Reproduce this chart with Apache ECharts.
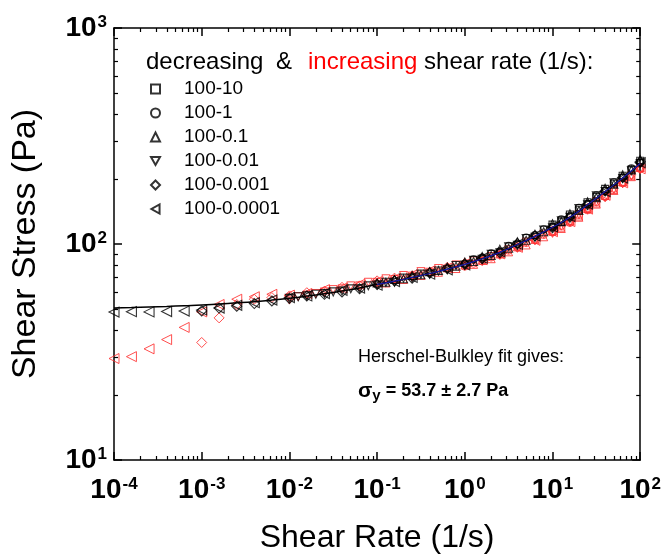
<!DOCTYPE html>
<html><head><meta charset="utf-8">
<script src="https://cdn.jsdelivr.net/npm/echarts@6/dist/echarts.min.js"></script>
<style>html,body{margin:0;padding:0;background:#fff}#c{width:664px;height:559px}</style>
</head><body><div id="c"></div>
<script>
// fine grid of shear rates (1/s), 10 per decade, from 100 down to 0.01
const ratesFine = [100, 79.4, 63.1, 50.1, 39.8, 31.6, 25.1, 20, 15.8, 12.6, 10, 7.94, 6.31, 5.01, 3.98, 3.16, 2.51, 2, 1.58, 1.26, 1, 0.794, 0.631, 0.501, 0.398, 0.316, 0.251, 0.2, 0.158, 0.126, 0.1, 0.0794, 0.0631, 0.0501, 0.0398, 0.0316, 0.0251, 0.02, 0.0158, 0.0126, 0.01];
// coarse grid, 5 per decade, from 100 down to 0.0001
const ratesCoarse = [100, 63.1, 39.8, 25.1, 15.8, 10, 6.31, 3.98, 2.51, 1.58, 1, 0.631, 0.398, 0.251, 0.158, 0.1, 0.0631, 0.0398, 0.0251, 0.0158, 0.01, 0.00631, 0.00398, 0.00251, 0.00158, 0.001, 0.000631, 0.000398, 0.000251, 0.000158, 0.0001];
const sweepNames = ['100-10', '100-1', '100-0.1', '100-0.01', '100-0.001', '100-0.0001'];
// decreasing shear rate (black)
const dec10 = [243, 221, 207, 190, 180, 165, 156, 144, 137, 127, 123];
const dec1 = [238, 224, 203, 193, 176, 168, 153, 147, 134, 130, 120, 117, 110, 107, 100, 98, 92.5, 90.5, 86.5, 85, 81];
const dec01 = [246, 220, 209, 189, 181, 164, 157, 143, 138, 127, 124, 114, 111, 104, 102.5, 95.5, 94.5, 88.5, 87.5, 83, 82.5, 79, 78, 75.5, 74.5, 72, 71.5, 69, 68.5, 66.5, 66];
const dec001 = [236, 218, 201, 192, 175, 167, 152, 146, 133, 128, 119, 116, 107.5, 106, 98.5, 97, 91, 89.5, 85, 84, 80, 79.5, 76, 75, 72.5, 72.5, 69.5, 69.5, 66.5, 66.5, 64.5, 64, 62, 62, 60.5, 60, 59, 58.5, 57.5, 57, 56];
const dec0001 = [240, 203, 176, 152, 133, 119, 109, 100.5, 91, 85.5, 80.5, 77, 73.5, 69.5, 67.5, 65, 62, 60, 58.5, 57.5, 56, 54.5, 53, 51.5, 50.5, 49.0];
const dec00001 = [238, 202, 175, 153, 134, 120, 109, 99.5, 92, 86, 80, 76, 72.5, 70, 67, 64.5, 62.5, 61, 59, 57.5, 56.5, 55, 53.5, 52, 50.5, 49.5, 48.9, 48.7, 48.5, 48.6, 48.4];
// increasing shear rate (red)
const inc10 = [225, 206, 193, 178, 167, 154, 145, 134, 127, 119, 114];
const inc1 = [222, 208, 191, 180, 165, 156, 143, 136, 125, 121, 113, 110, 104.5, 101, 96, 93, 89, 86.5, 83, 81, 78.5];
const inc01 = [226, 205, 194, 177, 168, 153, 146, 133, 128, 118, 115, 108, 105, 99, 97, 92, 90, 85.5, 84, 80.5, 80, 77, 77.5, 74, 74.5, 71.5, 72, 68.5, 69, 66, 66.5];
const inc001 = [221, 207, 190, 179, 164, 157, 144, 137, 126, 121, 112, 111, 103.5, 102, 95.5, 94, 88.5, 87.5, 83, 83.5, 79, 80, 76.5, 77, 74, 74.5, 71, 71.5, 68.5, 69, 66.5, 66.5, 64, 64, 62, 61.5, 60, 59, 58, 57, 55];
const inc0001 = [225, 193, 166, 146, 128, 115, 105, 97, 90.5, 85.5, 81.5, 78, 74, 71, 69.5, 67.5, 64, 63, 60.5, 59.5, 57.5, 56.5, 55.5, 52.5, 45.5, 35.0];
const inc00001 = [223, 192, 168, 145, 127, 114, 104, 96.5, 90, 84.5, 81, 77.5, 75, 72, 69, 67, 65, 62.5, 61.5, 59, 58, 58.5, 57, 55.5, 52.5, 48.5, 41.1, 36.1, 32.7, 30.1, 29.5];
// Herschel-Bulkley fit curve on the coarse grid
const fitLine = [236, 202, 175, 152, 133, 119.5, 108.5, 99.5, 91.5, 85.5, 80.5, 76.5, 73.0, 70.0, 67.3, 65.0, 62.6, 60.6, 58.9, 57.4, 56.1, 55.0, 54.1, 53.4, 52.8, 52.2, 51.8, 51.4, 51.1, 50.8, 50.6];
const blueFit = [236, 202, 175, 152, 133, 119.5, 108.5, 99.5, 91.5, 85.5, 80.5, 76.5, 73.0, 70.0, 67.3, 65.0];
// ticks
const xMajorTicks = [1e-4, 1e-3, 1e-2, 1e-1, 1, 10, 100];
const xTickExps = ['-4', '-3', '-2', '-1', '0', '1', '2'];
const yMajorTicks = [10, 100, 1000];
const yTickExps = ['1', '2', '3'];
const minorMult = [2, 3, 4, 5, 6, 7, 8, 9];

// minor tick positions in decades (drawn on linear helper axes spanning the same decades)
const xMinor = [];
xMajorTicks.slice(0, -1).forEach(d => minorMult.forEach(m => xMinor.push(Math.log10(d * m))));
const yMinor = [];
yMajorTicks.slice(0, -1).forEach(d => minorMult.forEach(m => yMinor.push(Math.log10(d * m))));

const decSets = [[dec10, ratesFine], [dec1, ratesFine], [dec01, ratesFine], [dec001, ratesFine], [dec0001, ratesCoarse], [dec00001, ratesCoarse]];
const incSets = [[inc10, ratesFine], [inc1, ratesFine], [inc01, ratesFine], [inc001, ratesFine], [inc0001, ratesCoarse], [inc00001, ratesCoarse]];
const symbols = ['rect', 'circle', 'triangle', 'path://M0,0L10,0L5,9Z', 'diamond', 'path://M9,0L9,10L0,5Z'];
const symSizes = [7, 7, 8, 8, 10, 10];
const pair = (arr, xs) => arr.map((v, i) => [xs[i], v]);

const FONT = '"Liberation Sans", Arial, sans-serif';

function expLabel(v, ticks, exps) {
  let best = 0;
  ticks.forEach((t, i) => { if (Math.abs(Math.log10(t) - Math.log10(v)) < Math.abs(Math.log10(ticks[best]) - Math.log10(v))) best = i; });
  return '{b|10}{s|' + exps[best] + '}';
}
const labelRich = {
  b: { fontFamily: FONT, fontWeight: 'bold', fontSize: 28, color: '#000' },
  s: { fontFamily: FONT, fontWeight: 'bold', fontSize: 17, color: '#000', verticalAlign: 'top', padding: [0, 0, 11, 1] }
};

const series = [];
incSets.forEach((s, k) => series.push({
  name: 'inc ' + sweepNames[k], type: 'scatter', data: pair(s[0], s[1]), symbol: symbols[k], symbolSize: symSizes[k],
  itemStyle: { color: 'rgba(0,0,0,0)', borderColor: '#ff3030', borderWidth: 1, opacity: 0.85 }, z: 2
}));
decSets.forEach((s, k) => series.push({
  name: sweepNames[k], type: 'scatter', data: pair(s[0], s[1]), symbol: symbols[k], symbolSize: symSizes[k],
  itemStyle: { color: 'rgba(0,0,0,0)', borderColor: '#000', borderWidth: 1.1 }, z: 3
}));
series.push({ name: 'fit', type: 'line', data: pair(fitLine, ratesCoarse), showSymbol: false, smooth: true,
  lineStyle: { color: '#000', width: 1.5 }, z: 4 });
series.push({ name: 'fit2', type: 'line', data: pair(blueFit, ratesCoarse), showSymbol: false, smooth: true,
  lineStyle: { color: '#1c1ca8', width: 1.2 }, z: 5 });

const logAxis = (extra) => Object.assign({
  type: 'log', logBase: 10, splitLine: { show: false }, minorTick: { show: false }
}, extra);
const helperAxis = (extra) => Object.assign({
  type: 'value', splitLine: { show: false }, axisLine: { show: false, onZero: false }, axisLabel: { show: false }, minorTick: { show: false }
}, extra);
const blackLine = { show: true, onZero: false, lineStyle: { color: '#000', width: 1.5 } };
const majorTick = { show: true, inside: true, length: 8, lineStyle: { color: '#000', width: 1.5 } };
const minorTickX = { show: true, inside: true, length: 4, customValues: xMinor, lineStyle: { color: '#000', width: 1.2 } };
const minorTickY = { show: true, inside: true, length: 4, customValues: yMinor, lineStyle: { color: '#000', width: 1.2 } };

const option = {
  animation: false,
  backgroundColor: '#fff',
  grid: { left: 114, right: 20, top: 28, bottom: 99, containLabel: false },
  xAxis: [
    logAxis({ min: 1e-4, max: 100, position: 'bottom', axisLine: blackLine, axisTick: majorTick,
      axisLabel: { show: true, margin: 16, formatter: v => expLabel(v, xMajorTicks, xTickExps), rich: labelRich },
      name: 'Shear Rate (1/s)', nameLocation: 'middle', nameGap: 62,
      nameTextStyle: { fontFamily: FONT, fontSize: 32, color: '#000' } }),
    helperAxis({ min: -4, max: 2, position: 'bottom', axisTick: minorTickX }),
    logAxis({ min: 1e-4, max: 100, position: 'top', axisLine: blackLine, axisTick: majorTick, axisLabel: { show: false } }),
    helperAxis({ min: -4, max: 2, position: 'top', axisTick: minorTickX })
  ],
  yAxis: [
    logAxis({ min: 10, max: 1000, position: 'left', axisLine: blackLine, axisTick: majorTick,
      axisLabel: { show: true, margin: 7, formatter: v => expLabel(v, yMajorTicks, yTickExps), rich: labelRich },
      name: 'Shear Stress (Pa)', nameLocation: 'middle', nameGap: 71,
      nameTextStyle: { fontFamily: FONT, fontSize: 34, color: '#000' } }),
    helperAxis({ min: 1, max: 3, position: 'left', axisTick: minorTickY }),
    logAxis({ min: 10, max: 1000, position: 'right', axisLine: blackLine, axisTick: majorTick, axisLabel: { show: false } }),
    helperAxis({ min: 1, max: 3, position: 'right', axisTick: minorTickY })
  ],
  legend: {
    data: sweepNames, orient: 'vertical', left: 145, top: 72, itemGap: 0,
    itemWidth: 9, itemHeight: 9,
    textStyle: { fontFamily: FONT, fontSize: 19, color: '#000', lineHeight: 24, padding: [0, 0, 0, 19] },
    selectedMode: false
  },
  graphic: [
    { type: 'text', x: 146, y: 62, style: { text: 'decreasing', fontFamily: FONT, fontSize: 24, fill: '#000', verticalAlign: 'middle' } },
    { type: 'text', x: 276, y: 62, style: { text: '&', fontFamily: FONT, fontSize: 24, fill: '#000', verticalAlign: 'middle' } },
    { type: 'text', x: 308, y: 62, style: { text: '{r|increasing} shear rate (1/s):', fontFamily: FONT, fontSize: 24, fill: '#000', verticalAlign: 'middle',
      rich: { r: { fontFamily: FONT, fontSize: 24, fill: '#ff0000', color: '#ff0000' } } } },
    { type: 'text', x: 358, y: 357, style: { text: 'Herschel-Bulkley fit gives:', fontFamily: FONT, fontSize: 18, fill: '#000', verticalAlign: 'middle' } },
    { type: 'text', x: 358, y: 391, style: { text: '{g|σ}{y|y}{t| = 53.7 ± 2.7 Pa}', verticalAlign: 'middle',
      rich: {
        g: { fontFamily: FONT, fontWeight: 'bold', fontSize: 21, fill: '#000' },
        y: { fontFamily: FONT, fontWeight: 'bold', fontSize: 15, fill: '#000', verticalAlign: 'bottom', padding: [10, 0, 0, 0] },
        t: { fontFamily: FONT, fontWeight: 'bold', fontSize: 18, fill: '#000' }
      } } }
  ],
  series: series
};
const chart = echarts.init(document.getElementById('c'), null, { renderer: 'canvas' });
chart.setOption(option);
</script>
</body></html>
